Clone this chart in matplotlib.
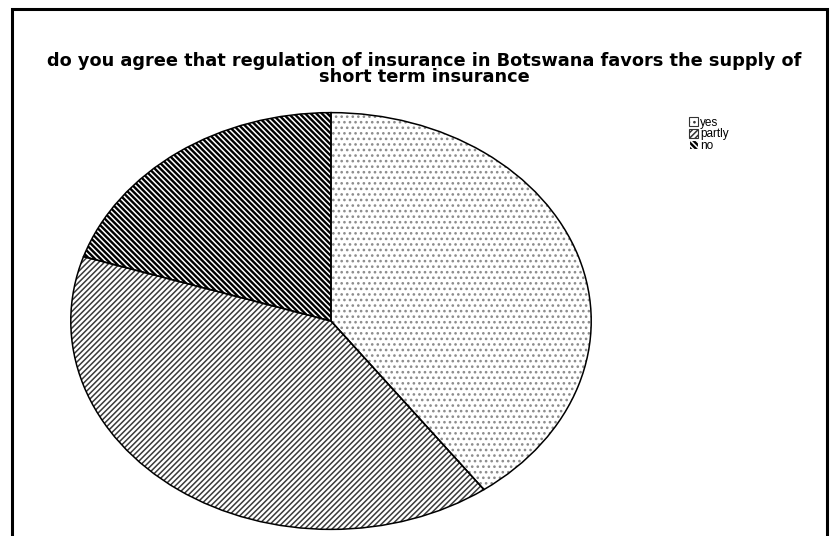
import matplotlib
matplotlib.use("Agg")
import matplotlib.pyplot as plt
from matplotlib.patches import Rectangle

# data
labels = ["yes", "partly", "no"]
shares = [40, 40, 20]
hatches = ["...", "//////", "\\\\\\\\\\\\"]
face_cols = ["white", "white", "black"]
hatch_cols = ["#8c8c8c", "#3a3a3a", "white"]

title = ("do you agree that regulation of insurance in Botswana favors the supply of\n"
         "short term insurance")

plt.rcParams["font.family"] = ["Liberation Sans", "DejaVu Sans"]
plt.rcParams["hatch.linewidth"] = 1.1

W, H = 830, 536
fig = plt.figure(figsize=(W / 100, H / 100), dpi=100)

# frame around the whole chart
fig.patches.append(Rectangle((12 / W, -0.01), (827 - 12) / W, (H - 9) / H + 0.01,
                             transform=fig.transFigure, fill=False,
                             edgecolor="black", linewidth=2.2))

# axes box = bounding box of the (elliptical) pie
x0, x1, y0, y1 = 70, 592, 112, 530
ax = fig.add_axes([x0 / W, (H - y1) / H, (x1 - x0) / W, (y1 - y0) / H])

# hatched fill
wedges, _ = ax.pie(shares, startangle=90, counterclock=False,
                   wedgeprops=dict(linewidth=0))
for w, h, fc, hc in zip(wedges, hatches, face_cols, hatch_cols):
    w.set_facecolor(fc)
    w.set_hatch(h)
    w.set_edgecolor(hc)

# outlines on top
ax.pie(shares, startangle=90, counterclock=False,
       wedgeprops=dict(fill=False, edgecolor="black", linewidth=1.1))

ax.set_aspect("auto")
ax.set_xlim(-1.003, 1.003)
ax.set_ylim(-1.003, 1.003)
ax.axis("off")

fig.text(424 / W, 1 - 69 / H, title, ha="center", va="center",
         fontsize=12.8, fontweight="bold", family="DejaVu Sans",
         linespacing=0.82)

leg = fig.legend(wedges, labels, loc="upper left",
                 bbox_to_anchor=(683 / W, 1 - 111 / H), frameon=False,
                 fontsize=8.5, handlelength=0.8, handleheight=0.8,
                 handletextpad=0.15, labelspacing=-0.05, borderpad=0)
for p in leg.get_patches():
    p.set_linewidth(0.8)
    if p.get_facecolor()[0] > 0.5:
        p.set_edgecolor("#333333")

fig.savefig("out.png", dpi=100)
